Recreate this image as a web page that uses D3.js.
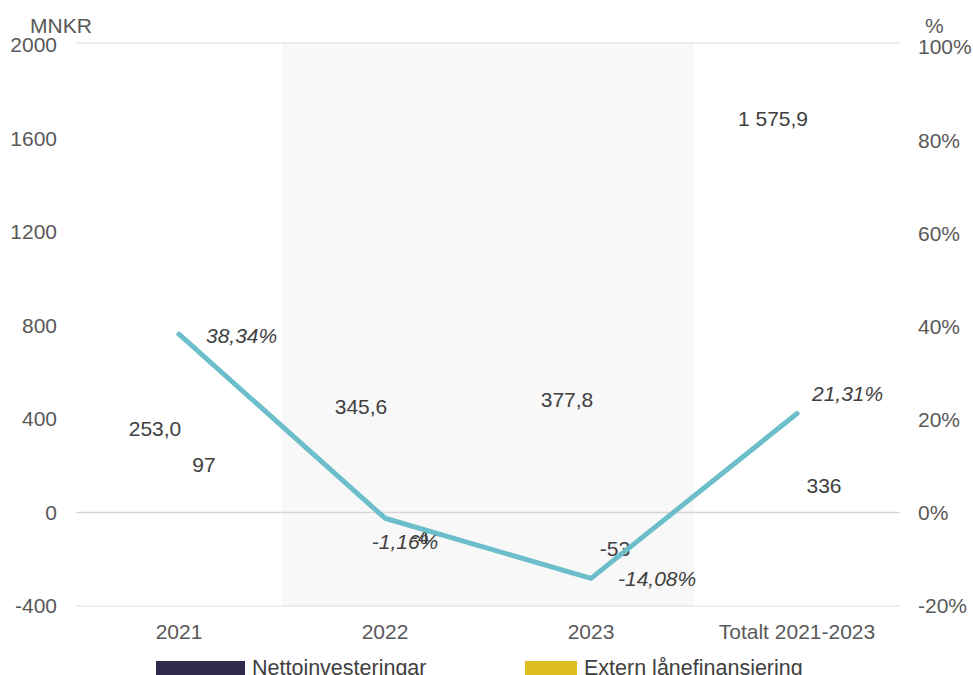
<!DOCTYPE html>
<html>
<head>
<meta charset="utf-8">
<script src="https://cdn.jsdelivr.net/npm/d3@7"></script>
<style>
  body { margin: 0; background: #fff; }
  svg { font-family: "Liberation Sans", Arial, sans-serif; }
</style>
</head>
<body>
<svg id="chart" width="973" height="675"></svg>
<script>
// data
const categories = ["2021", "2022", "2023", "Totalt 2021-2023"];
const nettoinvesteringar = [253.0, 345.6, 377.8, 1575.9];
const externLan = [97, -4, -53, 336];
const andel = [38.34, -1.16, -14.08, 21.31]; // procent, höger axel
const leftTicks = [-400, 0, 400, 800, 1200, 1600, 2000];
const rightTicks = [-20, 0, 20, 40, 60, 80, 100];
const shaded = ["2022", "2023"];

// label nudges (px)
const extLabelDy = [-25, 23, 24, 52];
const extLabelDx = [25, 35, 24, 27];
const pctLabelPos = [[27, 1, "start"], [20, 23, "middle"], [27, 0, "start"], [15, -20, "start"]];

const FS = "21px";
const svg = d3.select("#chart");
const m = { left: 76, right: 900, top: 43, bottom: 606 };

const x = d3.scaleBand().domain(categories).range([m.left, m.right]);
const yL = d3.scaleLinear().domain([-400, 2000]).range([m.bottom, m.top + 2]);
const yR = d3.scaleLinear().domain([-20, 100]).range([m.bottom, m.top + 4]);

const sv = d3.formatLocale({ decimal: ",", thousands: " ", grouping: [3], currency: ["", " kr"], minus: "-" });
const f1 = sv.format(",.1f"), f0 = sv.format(",.0f"), f2 = sv.format(".2f");

// shaded band
svg.append("rect")
  .attr("x", x(shaded[0])).attr("y", m.top)
  .attr("width", x(shaded[1]) + x.bandwidth() - x(shaded[0]))
  .attr("height", m.bottom - m.top)
  .attr("fill", "#f8f8f8");

// grid lines: top, zero, bottom
[m.top, m.bottom].forEach(py => svg.append("line")
  .attr("x1", m.left).attr("x2", m.right)
  .attr("y1", py).attr("y2", py)
  .attr("stroke", "#dedede").attr("stroke-width", 1));
svg.append("line")
  .attr("x1", m.left).attr("x2", m.right)
  .attr("y1", yL(0)).attr("y2", yL(0))
  .attr("stroke", "#d6d6d6").attr("stroke-width", 1.5);

// left axis labels
svg.append("g").selectAll("text").data(leftTicks).join("text")
  .attr("x", 57).attr("y", d => yL(d)).attr("dy", "0.35em")
  .attr("text-anchor", "end").attr("fill", "#595959").style("font-size", FS)
  .text(d => d);
svg.append("text").attr("x", 30).attr("y", 33).attr("fill", "#595959")
  .style("font-size", FS).text("MNKR");

// right axis labels
svg.append("g").selectAll("text").data(rightTicks).join("text")
  .attr("x", 918).attr("y", d => yR(d)).attr("dy", "0.35em")
  .attr("fill", "#595959").style("font-size", FS)
  .text(d => d + "%");
svg.append("text").attr("x", 925).attr("y", 33).attr("fill", "#595959")
  .style("font-size", FS).text("%");

// x axis labels
svg.append("g").selectAll("text").data(categories).join("text")
  .attr("x", d => x(d) + x.bandwidth() / 2).attr("y", 632).attr("dy", "0.35em")
  .attr("text-anchor", "middle").attr("fill", "#595959").style("font-size", FS)
  .text(d => d);

// data labels (bars themselves not visible)
const cx = i => x(categories[i]) + x.bandwidth() / 2;
svg.append("g").selectAll("text").data(nettoinvesteringar).join("text")
  .attr("x", (d, i) => cx(i) - 24).attr("y", d => yL(d) - 25).attr("dy", "0.35em")
  .attr("text-anchor", "middle").attr("fill", "#404040").style("font-size", FS)
  .text(d => f1(d));
svg.append("g").selectAll("text").data(externLan).join("text")
  .attr("x", (d, i) => cx(i) + extLabelDx[i]).attr("y", (d, i) => yL(d) + extLabelDy[i]).attr("dy", "0.35em")
  .attr("text-anchor", "middle").attr("fill", "#404040").style("font-size", FS)
  .text(d => f0(d));

// line
const line = d3.line().x((d, i) => cx(i)).y(d => yR(d));
svg.append("path").datum(andel)
  .attr("d", line).attr("fill", "none")
  .attr("stroke", "#6cbfca").attr("stroke-width", 5)
  .attr("stroke-linecap", "round").attr("stroke-linejoin", "round");

svg.append("g").selectAll("text").data(andel).join("text")
  .attr("x", (d, i) => cx(i) + pctLabelPos[i][0])
  .attr("y", (d, i) => yR(d) + pctLabelPos[i][1]).attr("dy", "0.35em")
  .attr("text-anchor", (d, i) => pctLabelPos[i][2])
  .attr("fill", "#404040").style("font-size", FS).style("font-style", "italic")
  .text(d => f2(d) + "%");

// legend (cut off at bottom)
const legend = [["Nettoinvesteringar", "#2e2b4f", 156, 89], ["Extern lånefinansiering", "#dfbd22", 525, 52]];
const lg = svg.append("g").selectAll("g").data(legend).join("g");
lg.append("rect").attr("x", d => d[2]).attr("y", 661).attr("width", d => d[3]).attr("height", 16)
  .attr("fill", d => d[1]);
lg.append("text").attr("x", d => d[2] + d[3] + 7).attr("y", 675)
  .attr("fill", "#404040").style("font-size", "21.5px").text(d => d[0]);
</script>
</body>
</html>
